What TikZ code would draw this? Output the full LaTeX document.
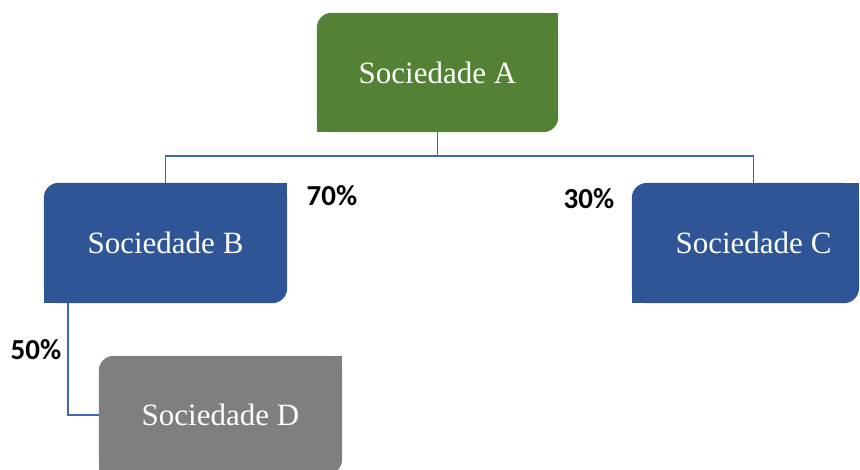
\documentclass[tikz,border=0pt]{standalone}
\usepackage{fontspec}
\setmainfont{Liberation Serif}
\newfontfamily\lblfont{Carlito}
\usetikzlibrary{backgrounds}
\definecolor{gA}{HTML}{548235}
\definecolor{bB}{HTML}{2F5597}
\definecolor{gD}{HTML}{7F7F7F}
\definecolor{ln}{HTML}{3F66B0}
\newcommand\orgfill[3]{%
  \fill[#3, rounded corners=15pt] (#1) rectangle (#2);
  \fill[#3] (#1) rectangle ++(15,15);
  \fill[#3] (#2) rectangle ++(-15,-15);}
\begin{document}
\begin{tikzpicture}[x=1pt,y=1pt,
  box/.style={minimum width=243pt, minimum height=120pt, inner sep=0pt, text=white,
              font=\fontsize{31}{36}\selectfont},
  pct/.style={font=\lblfont\bfseries\fontsize{29}{34}\selectfont, inner sep=0pt},
  link/.style={draw=ln, line width=1.1pt}]
\useasboundingbox (0,0) rectangle (860,470);
\node[box, minimum width=241pt, minimum height=119pt] (A) at (437.5,397.5) {Sociedade A};
\node[box] (B) at (165.5,227) {Sociedade B};
\node[box] (C) at (753.5,227) {Sociedade C};
\node[box, minimum height=118pt] (D) at (220.5,55) {Sociedade D};
\coordinate (Cne) at (859,287);
\begin{scope}[on background layer]
  \orgfill{A.south west}{A.north east}{gA}
  \orgfill{B.south west}{B.north east}{bB}
  \orgfill{C.south west}{Cne}{bB}
  \orgfill{D.south west}{D.north east}{gD}
\end{scope}
\coordinate (J) at (437.5,314);
\draw[link] (A.south) -- (J);
\draw[link] (B.north) |- (J) -| (C.north);
\coordinate (Bs) at (68,167);
\draw[link] (Bs) |- (D.west);
\node[pct] (p70) at (332,274.5) {70\%};
\node[pct] (p30) at (589,271.5) {30\%};
\node[pct] (p50) at (36,120.5) {50\%};
\end{tikzpicture}
\end{document}
